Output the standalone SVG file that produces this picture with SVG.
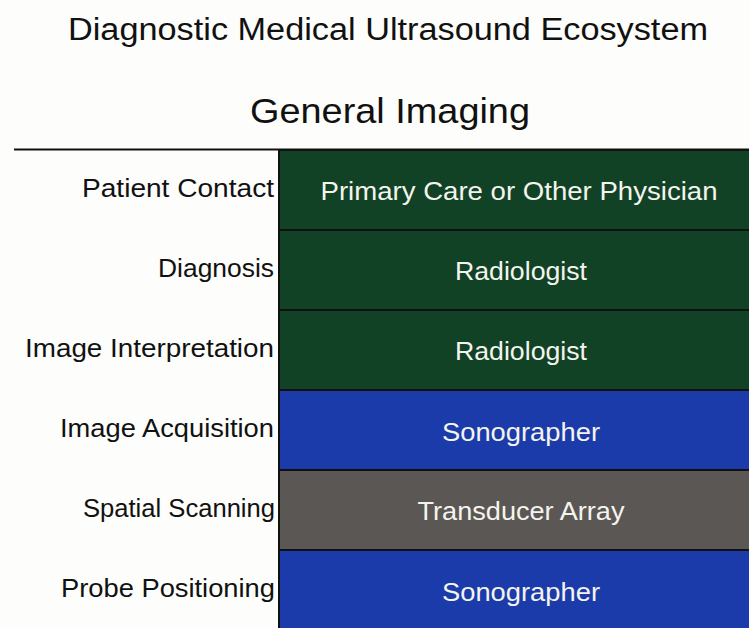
<svg xmlns="http://www.w3.org/2000/svg" width="749" height="628" viewBox="0 0 749 628">
<style>
text{font-family:"Liberation Sans",Arial,sans-serif;}
.title{font-size:31px;fill:#111;text-anchor:middle;}
.sub{font-size:35px;fill:#111;text-anchor:middle;}
.lbl{font-size:26px;fill:#111;text-anchor:end;}
.box{stroke:#111;stroke-width:2;}
.btxt{font-size:26px;fill:#f4f4ee;text-anchor:middle;}
.green{fill:#114226;}
.blue{fill:#1b3bab;}
.gray{fill:#5b5755;}
</style>
<rect width="749" height="628" fill="#fdfdfb"/>
<text class="title" x="388" y="40" textLength="640" lengthAdjust="spacingAndGlyphs">Diagnostic Medical Ultrasound Ecosystem</text>
<text class="sub" x="390" y="123" textLength="280" lengthAdjust="spacingAndGlyphs">General Imaging</text>
<g id="connectors">
<line x1="14" y1="149.5" x2="749" y2="149.5" stroke="#111" stroke-width="2"/>
</g>
<g id="row1">
<rect class="box green" x="279" y="150" width="472" height="80"/>
<text class="lbl" x="274" y="197" textLength="192" lengthAdjust="spacingAndGlyphs">Patient Contact</text>
<text class="btxt" x="519" y="200" textLength="397" lengthAdjust="spacingAndGlyphs">Primary Care or Other Physician</text>
</g>
<g id="row2">
<rect class="box green" x="279" y="230" width="472" height="80"/>
<text class="lbl" x="274" y="277" textLength="116" lengthAdjust="spacingAndGlyphs">Diagnosis</text>
<text class="btxt" x="521" y="280" textLength="132" lengthAdjust="spacingAndGlyphs">Radiologist</text>
</g>
<g id="row3">
<rect class="box green" x="279" y="310" width="472" height="80"/>
<text class="lbl" x="274" y="357" textLength="249" lengthAdjust="spacingAndGlyphs">Image Interpretation</text>
<text class="btxt" x="521" y="360" textLength="132" lengthAdjust="spacingAndGlyphs">Radiologist</text>
</g>
<g id="row4">
<rect class="box blue" x="279" y="390" width="472" height="80"/>
<text class="lbl" x="274" y="437" textLength="214" lengthAdjust="spacingAndGlyphs">Image Acquisition</text>
<text class="btxt" x="521" y="441" textLength="158" lengthAdjust="spacingAndGlyphs">Sonographer</text>
</g>
<g id="row5">
<rect class="box gray" x="279" y="470" width="472" height="80"/>
<text class="lbl" x="275" y="517" textLength="192" lengthAdjust="spacingAndGlyphs">Spatial Scanning</text>
<text class="btxt" x="521" y="520" textLength="207" lengthAdjust="spacingAndGlyphs">Transducer Array</text>
</g>
<g id="row6">
<rect class="box blue" x="279" y="550" width="472" height="80"/>
<text class="lbl" x="275" y="597" textLength="214" lengthAdjust="spacingAndGlyphs">Probe Positioning</text>
<text class="btxt" x="521" y="601" textLength="158" lengthAdjust="spacingAndGlyphs">Sonographer</text>
</g>
</svg>
